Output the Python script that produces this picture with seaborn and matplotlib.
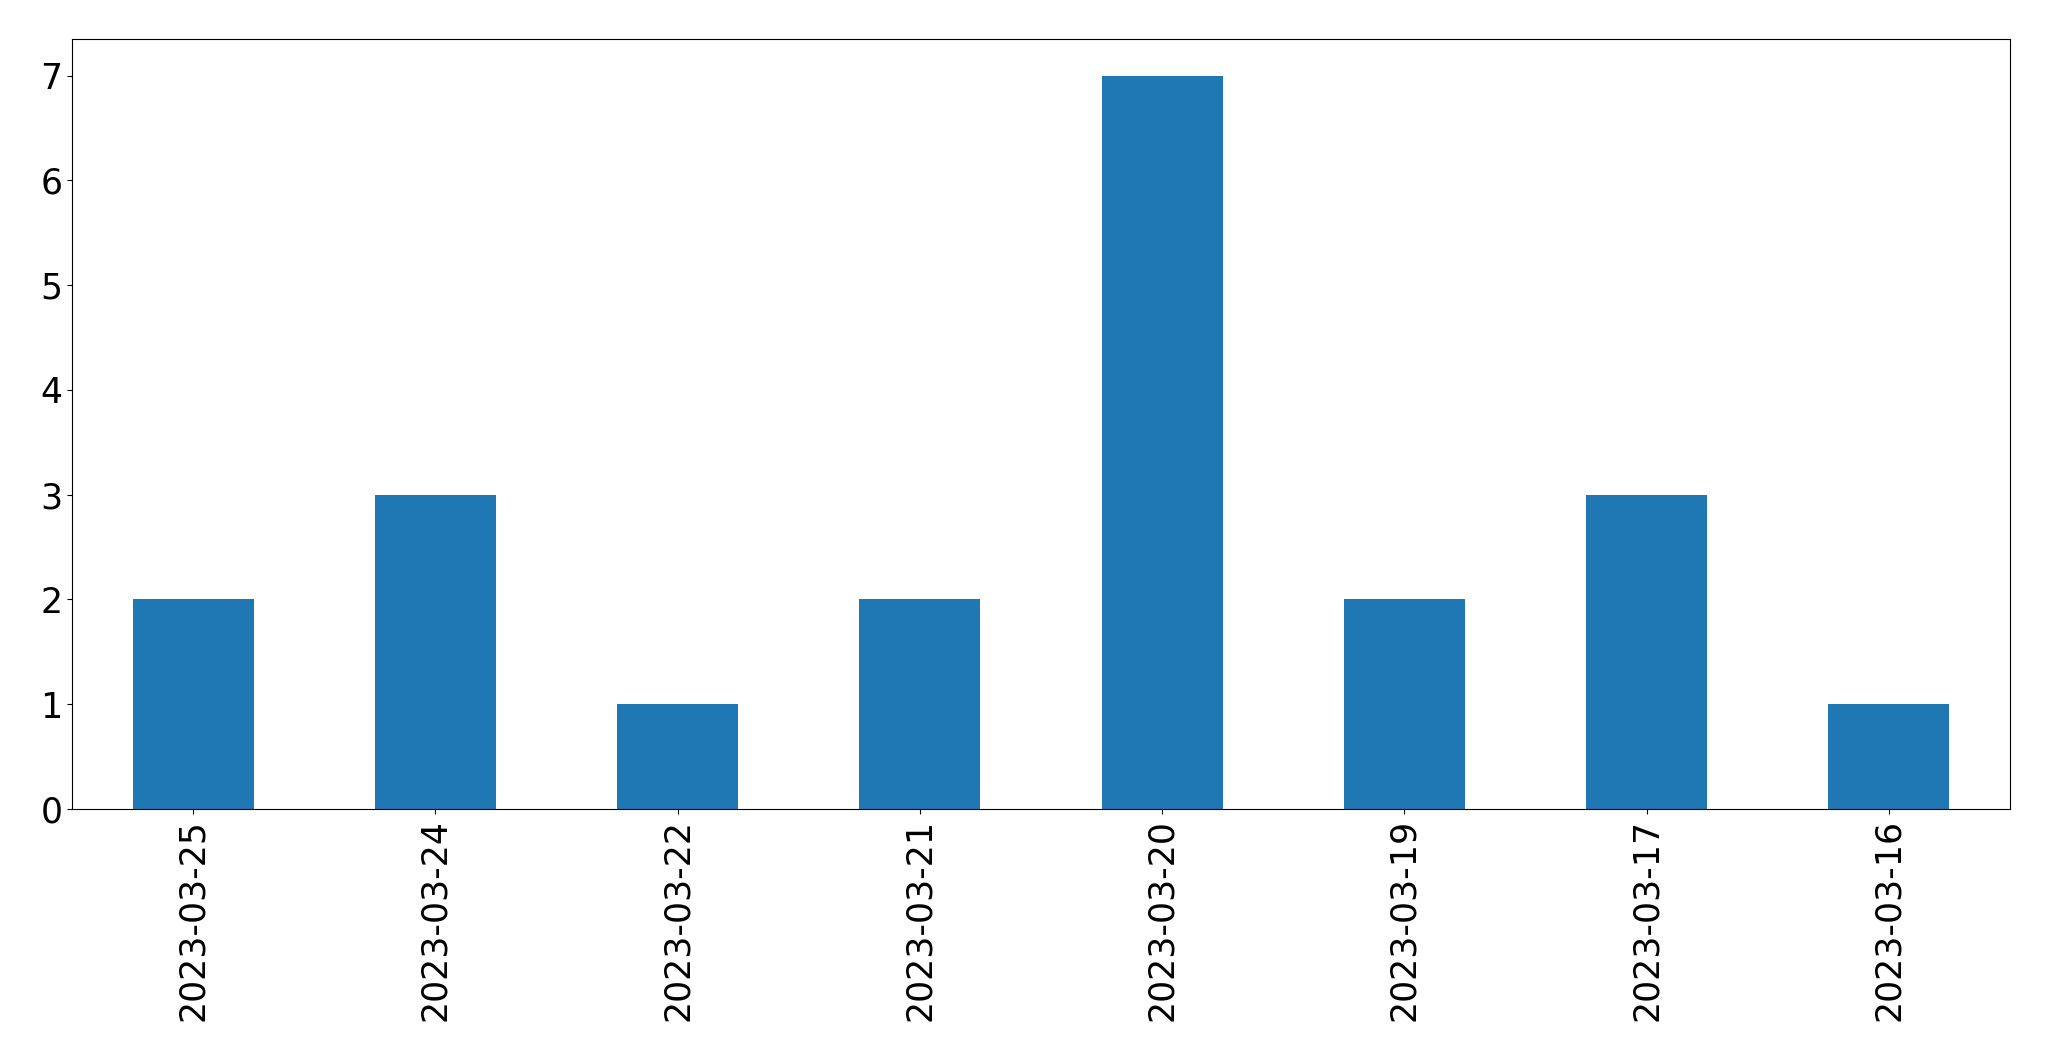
import pandas as pd
import matplotlib
matplotlib.use("Agg")
import matplotlib.pyplot as plt
import seaborn as sns

# counts per date
dates = ['2023-03-25', '2023-03-24', '2023-03-22', '2023-03-21',
         '2023-03-20', '2023-03-19', '2023-03-17', '2023-03-16']
counts = [2, 3, 1, 2, 7, 2, 3, 1]

df = pd.DataFrame({'date': dates, 'count': counts})

fig = plt.figure(figsize=(20.49, 10.61), dpi=100)
ax = fig.add_axes([72 / 2049, 1 - 809 / 1061, (2010 - 72) / 2049, (809 - 39) / 1061])

sns.barplot(data=df, x='date', y='count', order=dates, color='#1f77b4',
            saturation=1, width=0.5, linewidth=0, ax=ax)

ax.set_xlim(-0.5, len(dates) - 0.5)
ax.set_ylim(0, max(counts) * 1.05)
ax.set_xlabel('')
ax.set_ylabel('')
ax.tick_params(axis='x', labelrotation=90, labelsize=25)
ax.tick_params(axis='y', labelsize=25)

fig.savefig('out.png', dpi=100)
